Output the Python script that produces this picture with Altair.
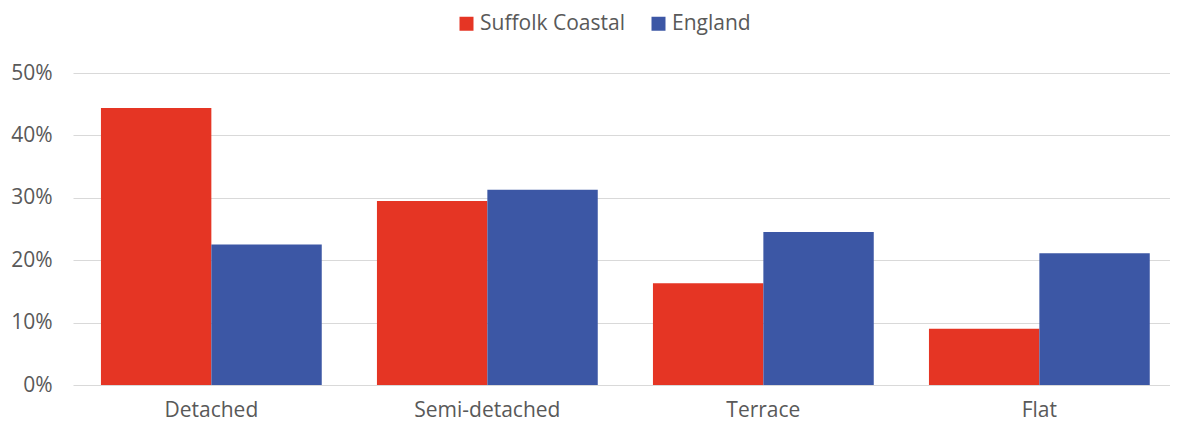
import altair as alt
import pandas as pd

categories = ["Detached", "Semi-detached", "Terrace", "Flat"]
series = ["Suffolk Coastal", "England"]
suffolk = [0.444, 0.295, 0.163, 0.090]
england = [0.225, 0.313, 0.245, 0.211]

rows = []
for c, s, e in zip(categories, suffolk, england):
    rows.append({"category": c, "series": "Suffolk Coastal", "value": s})
    rows.append({"category": c, "series": "England", "value": e})
df = pd.DataFrame(rows)

font = "Open Sans"
grey = "#595959"

chart = alt.Chart(df).mark_bar().encode(
    x=alt.X("category:N", sort=categories, title=None,
            scale=alt.Scale(paddingInner=0.2, paddingOuter=0.0873, align=0.58, round=False),
            axis=alt.Axis(labelAngle=0, labelFontSize=21, labelColor=grey, labelFont=font,
                          ticks=False, domain=False, labelPadding=14)),
    xOffset=alt.XOffset("series:N", sort=series),
    y=alt.Y("value:Q", title=None,
            scale=alt.Scale(domain=[0, 0.5]),
            axis=alt.Axis(format=".0%", values=[0, 0.1, 0.2, 0.3, 0.4, 0.5],
                          labelFontSize=21, labelColor=grey, labelFont=font,
                          ticks=False, domain=False, gridColor="#d9d9d9",
                          labelPadding=21)),
    color=alt.Color("series:N", sort=series,
                    scale=alt.Scale(domain=series, range=["#E53524", "#3C57A5"]),
                    legend=alt.Legend(title=None, orient="none", direction="horizontal",
                                      legendX=383, legendY=-60,
                                      symbolType="square", symbolSize=196,
                                      symbolStrokeWidth=0,
                                      labelFontSize=21, labelColor=grey, labelFont=font,
                                      columnPadding=23, labelOffset=3)),
).properties(
    width=1097, height=312,
    padding={"left": 65, "top": 65, "right": 0, "bottom": 37},
    autosize=alt.AutoSizeParams(type="none"),
).configure_view(stroke=None)

chart.save("out.html", embed_options={"renderer": "svg", "actions": False})
